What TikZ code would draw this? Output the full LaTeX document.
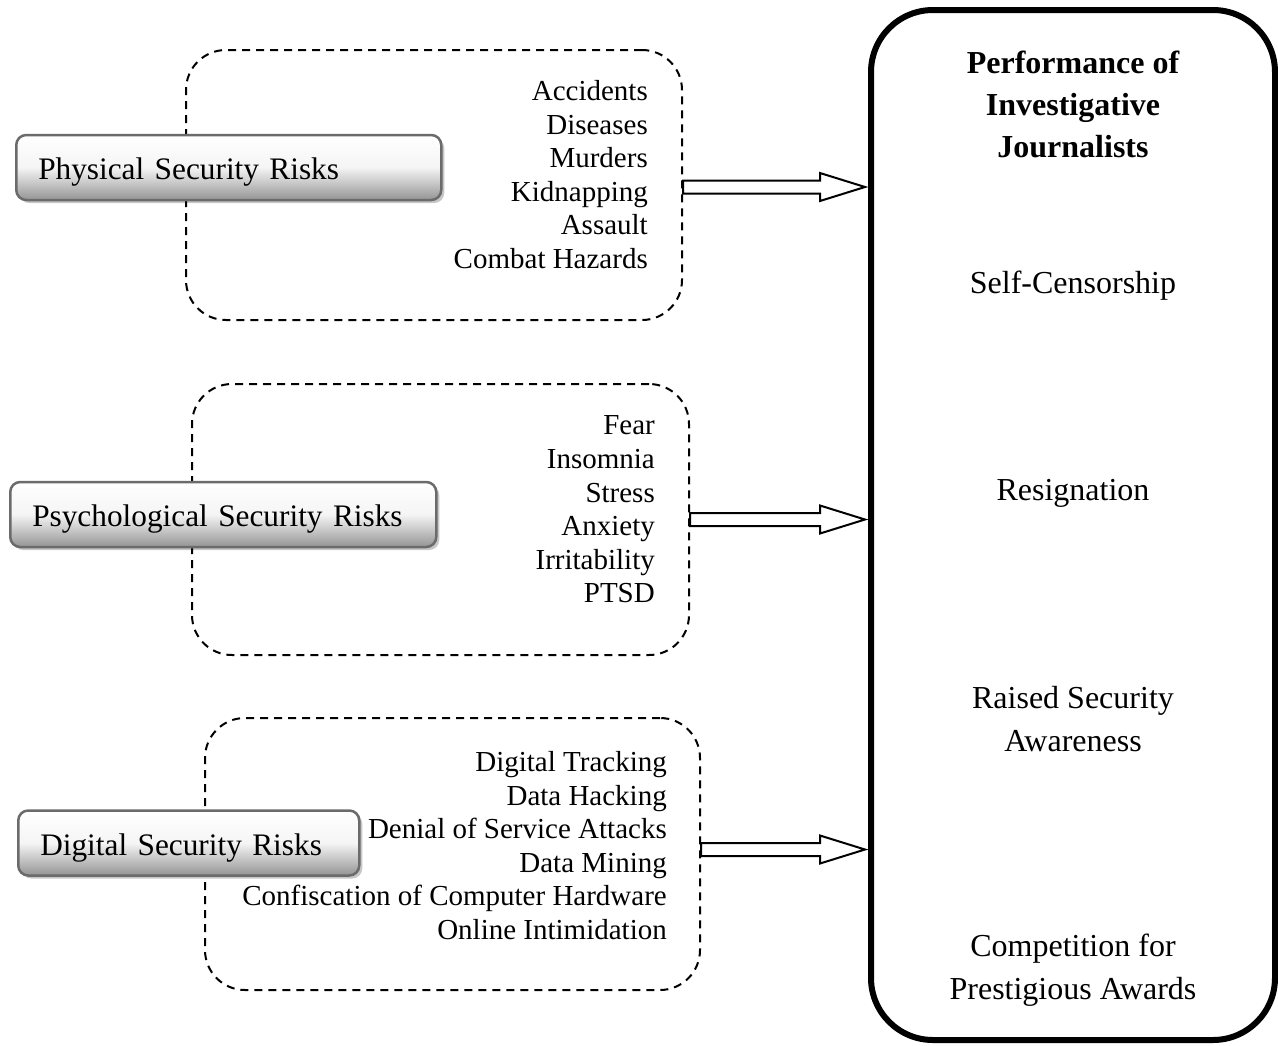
\documentclass[tikz,border=0pt]{standalone}
\usepackage{fontspec}
\setmainfont{Liberation Serif}
\usetikzlibrary{calc, shadows}

\tikzset{
  groupbox/.style={draw, line width=2pt, dash pattern=on 8pt off 6pt, rounded corners=40pt, inner sep=0pt},
  riskbox/.style={draw=black!58, line width=2.5pt, rounded corners=10pt,
    top color=white, bottom color=black!42, middle color=black!4,
    drop shadow={shadow xshift=3pt, shadow yshift=-3pt, fill=black, opacity=0.22},
    minimum height=65pt, inner xsep=22pt, inner ysep=0pt, align=left, anchor=west,
    text height=30pt, text depth=6pt, font=\fontsize{31.3}{38}\selectfont},
  listtext/.style={anchor=east, align=right, inner sep=0pt, font=\fontsize{29}{33.6}\selectfont},
  perfbox/.style={draw, line width=6pt, rounded corners=62pt, inner sep=0pt},
  perftext/.style={align=center, inner sep=0pt, font=\fontsize{32}{42.5}\selectfont},
  fatarrow/.style={draw, fill=white, line width=2pt, line join=miter},
}

\begin{document}
\begin{tikzpicture}[x=1pt, y=-1pt]
\useasboundingbox (0,0) rectangle (1278,1045);

% dashed groups
\node[groupbox, minimum width=496pt, minimum height=270pt] (physbox) at (434,185) {};
\node[groupbox, minimum width=497pt, minimum height=271pt] (psybox) at (440.5,519.5) {};
\node[groupbox, minimum width=495pt, minimum height=272pt] (digbox) at (452.5,854) {};

% risk labels
\node[riskbox, text width=381pt] (physrisk) at (15,167.5) {Physical Security Risks};
\node[riskbox, text width=382pt] (psyrisk) at (9,514.5) {Psychological Security Risks};
\node[riskbox, text width=297pt] (digrisk) at (17,843) {Digital Security Risks};

% lists
\node[listtext] (physlist) at (648,174.5) {Accidents\\Diseases\\Murders\\Kidnapping\\Assault\\Combat Hazards};
\node[listtext] (psylist) at (655,509.5) {Fear\\Insomnia\\Stress\\Anxiety\\Irritability\\PTSD};
\node[listtext] (diglist) at (667,845.5) {Digital Tracking\\Data Hacking\\Denial of Service Attacks\\Data Mining\\Confiscation of Computer Hardware\\Online Intimidation};

% outcome box
\node[perfbox, minimum width=404pt, minimum height=1030pt] (perf) at (1073,525) {};
\node[perftext, font=\fontsize{32}{42}\selectfont\bfseries] (title) at (1073,104) {Performance of\\Investigative\\Journalists};
\node[perftext] (censor) at (1073,286) {Self-Censorship};
\node[perftext] (resign) at (1073,493) {Resignation};
\node[perftext] (aware) at (1073,719) {Raised Security\\Awareness};
\node[perftext] (awards) at (1073,970) {Competition for\\Prestigious Awards};

% hollow arrows
\foreach \b/\s in {physbox/2, psybox/0, digbox/-4.5} {
  \coordinate (s) at ($(\b.east)+(0,\s)$);
  \coordinate (t) at ($(perf.west |- s)+(-3,0)$);
  \draw[fatarrow] ($(s)+(0,-6.5)$) -- ($(t)+(-45,-6.5)$) -- ++(0,-7.5) -- (t)
    -- ++(-45,14) -- ++(0,-7.5) -- ($(s)+(0,6.5)$) -- cycle;
}
\end{tikzpicture}
\end{document}
